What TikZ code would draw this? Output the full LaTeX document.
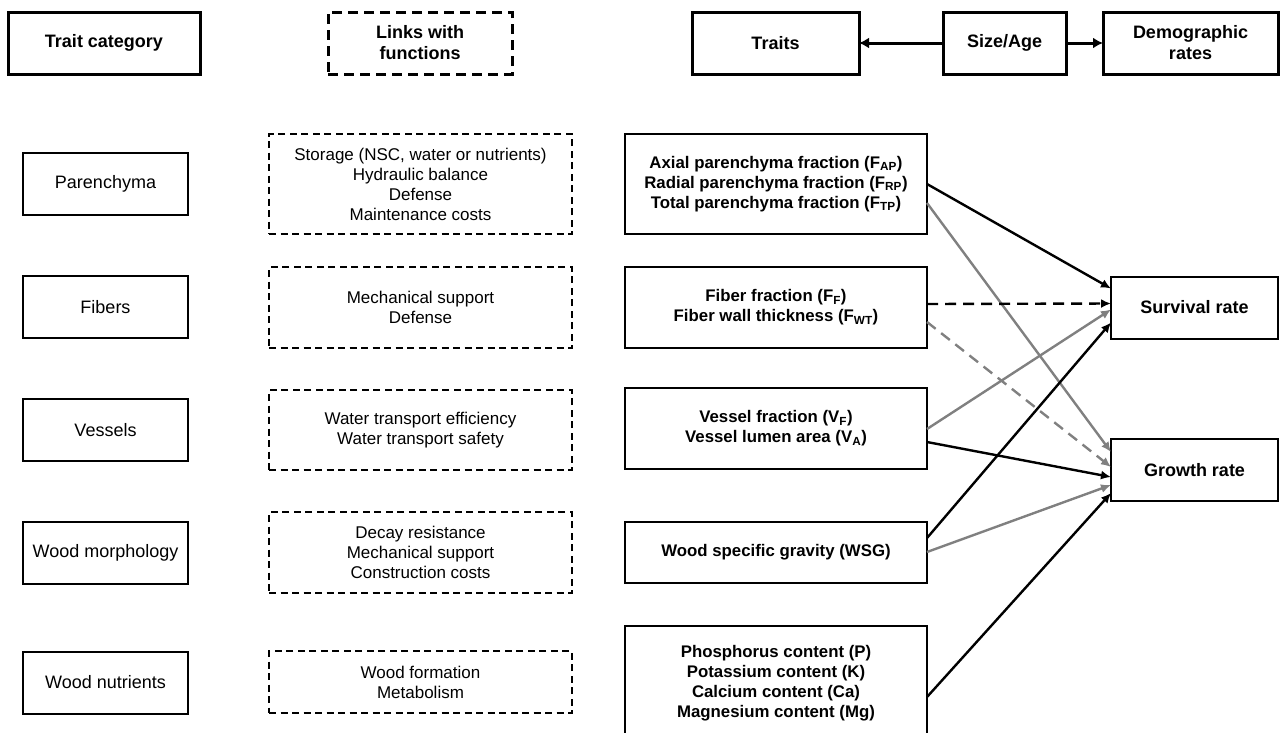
\documentclass[tikz,border=0pt]{standalone}
\usepackage{fontspec}
\setmainfont{Liberation Sans}
\usetikzlibrary{arrows.meta,calc}
\begin{document}
\begin{tikzpicture}[x=1pt,y=-1pt,
  hdr/.style={draw, line width=3pt, minimum height=62pt, align=center, inner sep=0pt, outer sep=0pt, font=\fontsize{18}{21}\selectfont\bfseries},
  hdrdash/.style={hdr, dash pattern=on 10pt off 6pt},
  cat/.style={draw, line width=2pt, minimum width=165pt, minimum height=62pt, align=center, inner sep=0pt, outer sep=0pt, font=\fontsize{18}{21}\selectfont},
  func/.style={draw, line width=1.6pt, dash pattern=on 7pt off 4.5pt, minimum width=303pt, align=center, inner sep=0pt, outer sep=0pt, font=\fontsize{17}{20}\selectfont},
  trait/.style={draw, line width=2pt, minimum width=302pt, align=center, inner sep=0pt, outer sep=0pt, font=\fontsize{16.8}{20}\selectfont\bfseries},
  rate/.style={draw, line width=2pt, minimum width=167pt, minimum height=62pt, align=center, inner sep=0pt, outer sep=0pt, font=\fontsize{18}{21}\selectfont\bfseries},
  tip/.style={-{Latex[length=10pt,width=9pt]}},
  htip/.style={-{Latex[length=10pt,width=11pt]}},
  blk/.style={draw=black, line width=2.4pt, tip},
  gry/.style={draw=black!50, line width=2.4pt, tip},
  dsh/.style={dash pattern=on 11pt off 7pt}
]
\useasboundingbox (0,0) rectangle (1282,732);
\clip (0,0) rectangle (1282,732);

% header
\node[hdr, minimum width=192pt] (hTC) at (104,43) {Trait category};
\node[hdrdash, minimum width=184pt] (hLF) at (420,43) {Links with\\functions};
\node[hdr, minimum width=167pt] (hTr) at (775.5,43) {Traits};
\node[hdr, minimum width=123pt] (hSA) at (1004.5,43) {Size/Age};
\node[hdr, minimum width=175pt] (hDR) at (1190.5,43) {Demographic\\rates};
\draw[line width=3pt, htip] (hSA.west) -- (hTr.east);
\draw[line width=3pt, htip] (hSA.east) -- (hDR.west);

% trait categories
\node[cat] (c1) at (105.5,184) {Parenchyma};
\node[cat] (c2) at (105.5,307) {Fibers};
\node[cat] (c3) at (105.5,430) {Vessels};
\node[cat] (c4) at (105.5,553) {Wood morphology};
\node[cat] (c5) at (105.5,682.5) {Wood nutrients};

% functions
\node[func, minimum height=100pt] (f1) at (420.5,184) {Storage (NSC, water or nutrients)\\Hydraulic balance\\Defense\\Maintenance costs};
\node[func, minimum height=81pt] (f2) at (420.5,307.5) {Mechanical support\\Defense};
\node[func, minimum height=80pt] (f3) at (420.5,430) {Water transport efficiency\\Water transport safety};
\node[func, minimum height=81pt] (f4) at (420.5,552.5) {Decay resistance\\Mechanical support\\Construction costs};
\node[func, minimum height=62pt] (f5) at (420.5,682) {Wood formation\\Metabolism};

% traits
\node[trait, minimum height=100pt] (t1) at (776,184) {Axial parenchyma fraction (F\textsubscript{AP})\\Radial parenchyma fraction (F\textsubscript{RP})\\Total parenchyma fraction (F\textsubscript{TP})};
\node[trait, minimum height=81pt] (t2) at (776,307.5) {Fiber fraction (F\textsubscript{F})\\Fiber wall thickness (F\textsubscript{WT})};
\node[trait, minimum height=81pt] (t3) at (776,428.5) {Vessel fraction (V\textsubscript{F})\\Vessel lumen area (V\textsubscript{A})};
\node[trait, minimum height=61pt] (t4) at (776,552.5) {Wood specific gravity (WSG)};
\node[trait, minimum height=114pt] (t5) at (776,683) {Phosphorus content (P)\\Potassium content (K)\\Calcium content (Ca)\\Magnesium content (Mg)};

% demographic rates
\node[rate] (sr) at (1194.5,307.5) {Survival rate};
\node[rate] (gr) at (1194.5,470) {Growth rate};

% connectors (gray first)
\draw[gry] ($(t1.north east)+(0,69)$) -- ($(gr.north west)+(0,13)$);
\draw[gry, dsh] ($(t2.north east)+(0,55)$) -- ($(gr.north west)+(0,28)$);
\draw[gry] ($(t3.north east)+(0,41)$) -- ($(sr.north west)+(0,33)$);
\draw[gry] ($(t4.north east)+(0,30)$) -- ($(gr.north west)+(0,46)$);
\draw[blk] ($(t1.north east)+(0,50)$) -- ($(sr.north west)+(0,12)$);
\draw[blk, dsh] ($(t2.north east)+(0,37)$) -- ($(sr.north west)+(0,27)$);
\draw[blk] ($(t3.north east)+(0,54)$) -- ($(gr.north west)+(0,38)$);
\draw[blk] ($(t4.north east)+(0,16)$) -- ($(sr.north west)+(0,46)$);
\draw[blk] ($(t5.north east)+(0,71)$) -- ($(gr.north west)+(0,54)$);
\end{tikzpicture}
\end{document}
